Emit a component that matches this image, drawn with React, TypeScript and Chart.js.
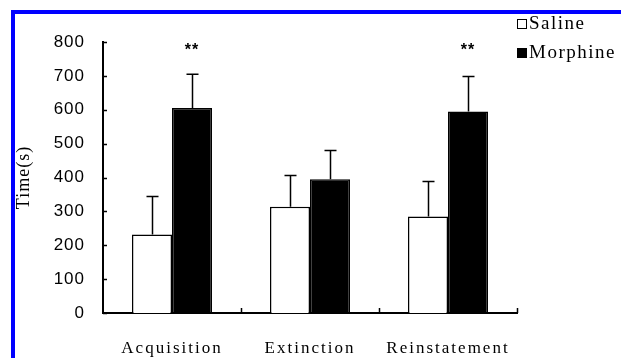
import React, { useEffect, useRef } from "react";
import { Chart, registerables } from "chart.js";

Chart.register(...registerables);

const categories = ["Acquisition", "Extinction", "Reinstatement"];
const salineValues = [232, 314, 285];
const salineErrors = [112, 92, 103];
const morphineValues = [605, 395, 595];
const morphineErrors = [100, 85, 103];
const significance = ["**", "", "**"];
const yTicks = [0, 100, 200, 300, 400, 500, 600, 700, 800];
const seriesNames = ["Saline", "Morphine"];

const SERIF = "'Liberation Serif', 'Times New Roman', serif";
const SANS = "'Liberation Sans', Arial, sans-serif";

const decorPlugin = {
  id: "decor",
  beforeDraw(chart: any) {
    const ctx = chart.ctx;
    ctx.save();
    ctx.fillStyle = "#ffffff";
    ctx.fillRect(0, 0, chart.width, chart.height);
    ctx.fillStyle = "#0000ff";
    ctx.fillRect(11, 10, 4, chart.height - 10);
    ctx.fillRect(11, 10, chart.width - 11, 4);
    ctx.restore();
    (ctx as any).letterSpacing = "1px";
  },
  afterDatasetsDraw(chart: any) {
    const ctx = chart.ctx;
    const yScale = chart.scales.y;
    const xScale = chart.scales.x;
    const errs = [salineErrors, morphineErrors];
    ctx.save();
    ctx.strokeStyle = "#000";
    ctx.lineWidth = 1.5;
    chart.data.datasets.forEach((ds: any, i: number) => {
      const meta = chart.getDatasetMeta(i);
      meta.data.forEach((el: any, j: number) => {
        const v = ds.data[j];
        const top = yScale.getPixelForValue(v + errs[i][j]);
        const x = Math.round(el.x) + 0.5;
        ctx.beginPath();
        ctx.moveTo(x, el.y);
        ctx.lineTo(x, top);
        ctx.moveTo(x - 6, top);
        ctx.lineTo(x + 6, top);
        ctx.stroke();
      });
    });
    const mMeta = chart.getDatasetMeta(1);
    ctx.fillStyle = "#000";
    ctx.font = "bold 16px " + SANS;
    ctx.textAlign = "center";
    ctx.textBaseline = "middle";
    significance.forEach((s, j) => {
      if (!s) return;
      ctx.fillText(s, mMeta.data[j].x, yScale.getPixelForValue(775));
    });
    ctx.lineWidth = 1.5;
    const left = chart.chartArea.left;
    const bottom = chart.chartArea.bottom;
    ctx.beginPath();
    yTicks.forEach((t) => {
      const y = Math.round(yScale.getPixelForValue(t)) + 0.5;
      ctx.moveTo(left, y);
      ctx.lineTo(left + 4, y);
    });
    const n = categories.length;
    for (let k = 1; k <= n; k++) {
      const x = Math.round(xScale.getPixelForValue(k - 0.5)) + 0.5;
      ctx.moveTo(x, bottom);
      ctx.lineTo(x, bottom - 5);
    }
    ctx.stroke();
    ctx.restore();
    (ctx as any).letterSpacing = "2px";
  },
  afterDraw(chart: any) {
    const ctx = chart.ctx;
    ctx.save();
    ctx.font = "19px " + SERIF;
    ctx.textBaseline = "middle";
    ctx.textAlign = "left";
    (ctx as any).letterSpacing = "1.5px";
    const rows = [24, 53];
    chart.data.datasets.forEach((ds: any, i: number) => {
      const y = rows[i];
      ctx.lineWidth = 1;
      ctx.strokeStyle = "#000";
      ctx.fillStyle = ds.backgroundColor;
      ctx.fillRect(517, y - 5, 10, 10);
      ctx.strokeRect(517.5, y - 4.5, 9, 9);
      ctx.fillStyle = "#000";
      ctx.fillText(ds.label, 529, y);
    });
    ctx.restore();
    (ctx as any).letterSpacing = "0px";
  },
};

export default function App() {
  const ref = useRef<HTMLCanvasElement | null>(null);
  useEffect(() => {
    if (!ref.current) return;
    const chart = new Chart(ref.current, {
      type: "bar",
      data: {
        labels: categories,
        datasets: [
          {
            label: seriesNames[0],
            data: salineValues,
            backgroundColor: "#ffffff",
            borderColor: "#000000",
            borderWidth: 1.5,
            categoryPercentage: 0.58,
            barPercentage: 1.0,
          },
          {
            label: seriesNames[1],
            data: morphineValues,
            backgroundColor: "#000000",
            borderColor: "#000000",
            borderWidth: 1.5,
            categoryPercentage: 0.58,
            barPercentage: 1.0,
          },
        ],
      },
      options: {
        animation: false,
        responsive: false,
        devicePixelRatio: 1,
        layout: { padding: { left: 0, right: 104, top: 42, bottom: 0 } },
        plugins: {
          legend: { display: false },
          tooltip: { enabled: false },
        },
        scales: {
          x: {
            grid: { display: false, drawTicks: false },
            border: { display: true, color: "#000", width: 2 },
            ticks: {
              z: 1,
              color: "#000",
              font: { family: SERIF, size: 17 },
              padding: 25,
              maxRotation: 0,
              autoSkip: false,
            },
            afterFit(scale: any) {
              scale.height = 45;
            },
          },
          y: {
            min: 0,
            max: 800,
            grid: { display: false, drawTicks: false },
            border: { display: true, color: "#000", width: 2 },
            ticks: {
              stepSize: 100,
              color: "#000",
              font: { family: SANS, size: 17 },
              padding: 18,
            },
            title: {
              display: true,
              text: "Time(s)",
              color: "#000",
              font: { family: SERIF, size: 18 },
              padding: { top: 13, bottom: 0 },
            },
            afterFit(scale: any) {
              scale.width = 103;
            },
          },
        },
      },
      plugins: [decorPlugin],
    });
    return () => chart.destroy();
  }, []);
  return (
    <div style={{ position: "absolute", left: 0, top: 0, width: 621, height: 358 }}>
      <canvas ref={ref} width={621} height={358} style={{ display: "block" }} />
    </div>
  );
}
